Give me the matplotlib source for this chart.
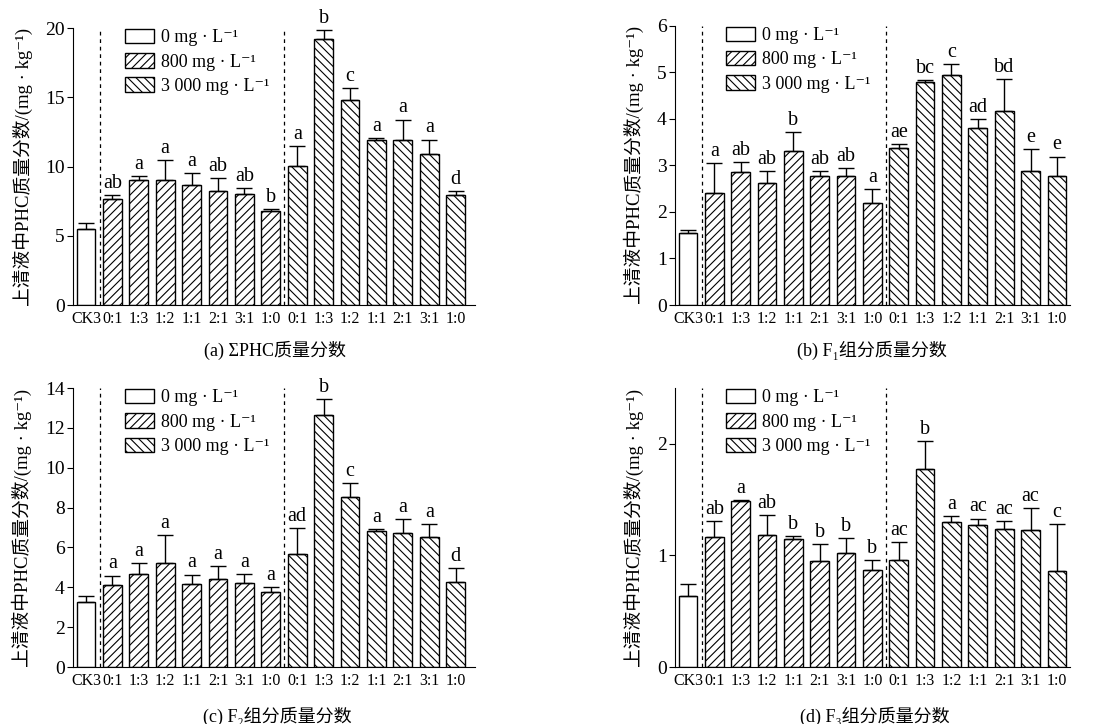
import matplotlib
matplotlib.use('Agg')
import matplotlib.pyplot as plt
import numpy as np
from matplotlib.patches import Patch
from matplotlib.transforms import ScaledTranslation

plt.rcParams['font.family'] = ['Liberation Serif', 'Noto Sans CJK SC', 'DejaVu Sans']
plt.rcParams['hatch.linewidth'] = 0.8

categories = ['CK3', '0:1', '1:3', '1:2', '1:1', '2:1', '3:1', '1:0',
              '0:1', '1:3', '1:2', '1:1', '2:1', '3:1', '1:0']
# group of each bar: 0 = 0 mg/L, 1 = 800 mg/L, 2 = 3000 mg/L
groups = [0] + [1] * 7 + [2] * 7
legend_labels = ['0 mg · L⁻¹', '800 mg · L⁻¹', '3 000 mg · L⁻¹']

# (a) sum PHC
mean_a = [5.46, 7.69, 9.01, 9.01, 8.65, 8.20, 8.03, 6.80,
          10.02, 19.23, 14.83, 11.90, 11.95, 10.87, 7.91]
err_a = [0.48, 0.27, 0.32, 1.45, 0.89, 0.98, 0.43, 0.15,
         1.45, 0.63, 0.84, 0.14, 1.44, 1.08, 0.34]
let_a = ['', 'ab', 'a', 'a', 'a', 'ab', 'ab', 'b',
         'a', 'b', 'c', 'a', 'a', 'a', 'd']

# (b) F1
mean_b = [1.54, 2.41, 2.86, 2.63, 3.31, 2.77, 2.77, 2.20,
          3.38, 4.80, 4.95, 3.81, 4.17, 2.87, 2.77]
err_b = [0.08, 0.63, 0.22, 0.25, 0.40, 0.11, 0.18, 0.30,
         0.08, 0.04, 0.22, 0.19, 0.68, 0.48, 0.42]
let_b = ['', 'a', 'ab', 'ab', 'b', 'ab', 'ab', 'a',
         'ae', 'bc', 'c', 'ad', 'bd', 'e', 'e']

# (c) F2
mean_c = [3.25, 4.11, 4.68, 5.20, 4.18, 4.41, 4.21, 3.74,
          5.67, 12.66, 8.55, 6.82, 6.74, 6.54, 4.28]
err_c = [0.29, 0.48, 0.52, 1.42, 0.46, 0.65, 0.47, 0.28,
         1.32, 0.80, 0.67, 0.10, 0.67, 0.62, 0.70]
let_c = ['', 'a', 'a', 'a', 'a', 'a', 'a', 'a',
         'ad', 'b', 'c', 'a', 'a', 'a', 'd']

# (d) F3
mean_d = [0.636, 1.164, 1.487, 1.18, 1.146, 0.949, 1.018, 0.866,
          0.958, 1.776, 1.299, 1.272, 1.233, 1.224, 0.86]
err_d = [0.11, 0.146, 0.009, 0.184, 0.027, 0.155, 0.137, 0.095,
         0.164, 0.251, 0.05, 0.059, 0.077, 0.203, 0.424]
let_d = ['', 'ab', 'a', 'ab', 'b', 'b', 'b', 'b',
         'ac', 'b', 'a', 'ac', 'ac', 'ac', 'c']

hatches = ['', '////', '\\\\\\\\']
ylabel = '上清液中PHC质量分数/(mg · kg⁻¹)'

panels = [
    # rect, means, errs, letters, ylim, yticks, xmax, caption, caption xy
    ([0.0663, 0.5787, 0.3651, 0.3826], mean_a, err_a, let_a, 20, [0, 5, 10, 15, 20], 14.73,
     '(a) ΣPHC质量分数', (0.250, 0.5166)),
    ([0.6131, 0.5787, 0.3588, 0.3858], mean_b, err_b, let_b, 6, [0, 1, 2, 3, 4, 5, 6], 14.5,
     '(b) F₁组分质量分数', (0.792, 0.5166)),
    ([0.0663, 0.0787, 0.3651, 0.3853], mean_c, err_c, let_c, 14, [0, 2, 4, 6, 8, 10, 12, 14], 14.73,
     '(c) F₂组分质量分数', (0.252, 0.011)),
    ([0.6131, 0.0787, 0.3588, 0.3853], mean_d, err_d, let_d, 2.5, [0, 1, 2], 14.5,
     '(d) F₃组分质量分数', (0.795, 0.011)),
]

fig = plt.figure(figsize=(11.01, 7.24), dpi=100)

for rect, means, errs, letters, ymax, yticks, xmax, caption, cxy in panels:
    ax = fig.add_axes(rect)
    x = np.arange(len(categories))
    means = np.array(means)
    errs = np.array(errs)
    for g in range(3):
        idx = [i for i in range(len(categories)) if groups[i] == g]
        ax.bar(x[idx], means[idx], width=0.71, color='white', edgecolor='black',
               linewidth=1.0, hatch=hatches[g], zorder=2)
        ax.errorbar(x[idx], means[idx], yerr=[np.zeros(len(idx)), errs[idx]],
                    fmt='none', ecolor='black', elinewidth=1.0, capsize=6, capthick=1.0, zorder=3)
    for i, lab in enumerate(letters):
        if lab:
            ax.annotate(lab, (x[i], means[i] + errs[i]), xytext=(0, 1.5),
                        textcoords='offset points', ha='center', va='bottom', fontsize=14.5)
    for xv in [0.53, 7.5]:
        ax.axvline(xv, color='black', linestyle=(0, (3, 3)), linewidth=0.9, zorder=1)

    ax.set_xlim(-0.49, xmax)
    ax.set_ylim(0, ymax)
    ax.set_yticks(yticks)
    ax.set_xticks(x)
    ax.set_xticklabels(categories, fontsize=11.5)
    # CK3 label sits slightly left of its bar
    first = ax.get_xticklabels()[0]
    first.set_transform(first.get_transform() + ScaledTranslation(-4 / 72, 0, fig.dpi_scale_trans))
    ax.tick_params(axis='x', length=0, pad=4)
    ax.tick_params(axis='y', direction='out', length=4, labelsize=14, pad=2)
    ax.spines['top'].set_visible(False)
    ax.spines['right'].set_visible(False)
    ax.set_ylabel(ylabel, fontsize=13.5, labelpad=9)

    handles = [Patch(facecolor='white', edgecolor='black', hatch=hatches[g], linewidth=1.0)
               for g in range(3)]
    ax.legend(handles, legend_labels, loc='upper left', bbox_to_anchor=(0.12, 1.01),
              frameon=False, fontsize=13, handlelength=1.6, handleheight=0.85,
              handletextpad=0.4, labelspacing=0.38, borderaxespad=0, borderpad=0.2)

    fig.text(cxy[0], cxy[1], caption, ha='center', va='center', fontsize=13)

fig.savefig('out.png', dpi=100)
